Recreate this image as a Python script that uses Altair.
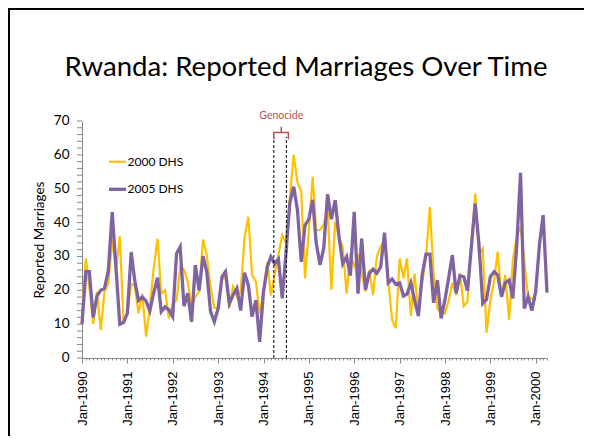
import altair as alt
import pandas as pd

# Monthly reported marriages, Jan 1990 onwards
series_2000_dhs = [
    13, 29.4, 21, 10.1, 19.5, 8.2, 19.6, 22, 35, 26, 36, 10.5,
    13, 21.8, 21.5, 13.2, 19, 6.3, 15, 26.5, 35.2, 19, 20, 11.7,
    16, 17, 26.7, 26.2, 22.5, 15.1, 18.1, 19.5, 35, 30.4, 21, 14.8,
    14.8, 23.6, 23.6, 14.8, 21, 18.1, 19.6, 35.5, 41.7, 24.5, 22.5, 13.2,
    19.6, 28.4, 18.5, 24.5, 30.5, 36.3, 34, 47.5, 60, 52, 49, 23.5,
    37.8, 53.6, 37.8, 37.8, 39.5, 44, 20.2, 40.2, 35.8, 32.8, 19, 30.9,
    27, 29.9, 25, 19.6, 26, 18.6, 29.9, 32.8, 34.8, 23, 11.2, 8.8,
    29.4, 23.5, 29.4, 12.4, 25, 13.2, 22, 29.9, 44.6, 25, 14.6, 13.2,
    13.2, 17.1, 22.2, 18.6, 25, 15.3, 16.6, 33.8, 48.6, 30.4, 32.4, 7.5,
    17.1, 23, 31.4, 18.1, 24.5, 11.2, 28.9, 35.8, 38.7, 28.9, 18.1, 17.6,
    17.1,
]
series_2005_dhs = [
    10, 25.5, 25.5, 12, 18.3, 20, 20.6, 25.8, 43.1, 27, 10, 10.5,
    13.2, 31.3, 23, 17, 18, 16.8, 13.9, 19.2, 23.7, 13.7, 15.1, 14.2,
    12.2, 30.8, 32.8, 15.3, 19.1, 10.7, 27.4, 19.9, 30.1, 25.5, 13.7, 10.7,
    14.6, 24, 25.5, 16.1, 18.6, 20.6, 14, 25.2, 21.5, 12.2, 17.1, 4.8,
    19.6, 26.9, 29.9, 27.9, 29.2, 17.6, 31, 45.8, 50.6, 43.8, 28.4, 39.2,
    41, 46.7, 34, 27.5, 32.5, 48.4, 41, 46.6, 35.8, 27.8, 29.9, 24.3,
    43.2, 19, 35.3, 20.1, 25, 26.2, 25, 26.9, 37, 22.2, 23.3, 21.8,
    22.2, 18.3, 18.9, 22.2, 17.1, 12.4, 24.5, 30.7, 30.7, 16.3, 23, 11.7,
    17.3, 24, 30.4, 19.1, 24.3, 24, 19.9, 32.8, 45.6, 33.8, 16.1, 17.3,
    24, 25.5, 24.5, 18.1, 22.2, 23, 17.6, 32.8, 54.7, 14.6, 18.1, 14,
    19.6, 33.8, 42.2, 19.3,
]
series_names = ["2000 DHS", "2005 DHS"]
series_colors = ["#FFC000", "#8064A2"]
start_month = "1990-01-01"
genocide_lines = ["1994-03-25", "1994-07-04"]
bracket_dates = ["1994-03-25", "1994-03-25", "1994-05-24", "1994-05-24",
                 "1994-05-24", "1994-07-20", "1994-07-20"]
bracket_levels = [64.6, 66.6, 66.6, 68.3, 66.6, 66.6, 64.6]
genocide_label = "Genocide"
title_text = "Rwanda: Reported Marriages Over Time"
y_title = "Reported Marriages"
y_major_ticks = [0, 10, 20, 30, 40, 50, 60, 70]
y_all_ticks = list(range(0, 71, 2))

df2000 = pd.DataFrame({
    "date": pd.date_range(start_month, periods=len(series_2000_dhs), freq="MS"),
    "value": series_2000_dhs,
})
df2005 = pd.DataFrame({
    "date": pd.date_range(start_month, periods=len(series_2005_dhs), freq="MS"),
    "value": series_2005_dhs,
})
df_gen = pd.DataFrame({"date": pd.to_datetime(genocide_lines)})
df_bracket = pd.DataFrame({
    "date": pd.to_datetime(bracket_dates),
    "value": bracket_levels,
    "order": list(range(len(bracket_levels))),
})
df_gen_label = pd.DataFrame({"date": pd.to_datetime(["1994-05-24"]), "value": [70.5]})
df_yticks = pd.DataFrame({"value": y_all_ticks})
df_ylabels = pd.DataFrame({"value": y_major_ticks, "label": [str(v) for v in y_major_ticks]})

W, H = 465, 237
PAD = {"left": 74, "top": 113, "right": 37, "bottom": 78}
AXIS_GRAY = "#868686"
FONT = "Lato"

x_scale = alt.Scale(domain=[alt.DateTime(year=1990, month=1, date=1),
                            alt.DateTime(year=2000, month=4, date=1)])
y_scale = alt.Scale(domain=[0, 70], nice=False, zero=True)

x_axis = alt.Axis(
    tickCount=alt.TimeIntervalStep(interval="month", step=1),
    labelExpr="month(datum.value) == 0 ? timeFormat(datum.value, '%b-%Y') : ''",
    labelAngle=270, labelAlign="right", labelBaseline="middle",
    labelPadding=8, labelOverlap=False, labelFlush=False,
    labelFont="Liberation Sans", labelFontSize=13, labelColor="#000",
    tickSize={"condition": {"test": "month(datum.value) == 0", "value": 5}, "value": 2},
    tickColor=AXIS_GRAY, domainColor=AXIS_GRAY, grid=False, title=None,
)
y_axis = alt.Axis(
    values=y_major_ticks, labels=False, ticks=False,
    domainColor=AXIS_GRAY, grid=False,
    title=y_title, titleFont=FONT, titleFontSize=13.5, titleFontWeight="normal",
    titleColor="#000", titleX=-43, titleY=118.5, titleAngle=270,
    titleAlign="center", titleBaseline="middle",
)

line2000 = alt.Chart(df2000).mark_line(color=series_colors[0], strokeWidth=2.2).encode(
    x=alt.X("date:T", scale=x_scale, axis=x_axis),
    y=alt.Y("value:Q", scale=y_scale, axis=y_axis),
)
line2005 = alt.Chart(df2005).mark_line(color=series_colors[1], strokeWidth=3.3).encode(
    x=alt.X("date:T"), y=alt.Y("value:Q"),
)
y_ticks = alt.Chart(df_yticks).mark_rule(color=AXIS_GRAY, strokeWidth=1).encode(
    x=alt.value(-5), x2=alt.value(0), y=alt.Y("value:Q"),
)
y_labels = alt.Chart(df_ylabels).mark_text(
    font=FONT, fontSize=13.5, color="#000", align="right", baseline="middle"
).encode(x=alt.value(-12.5), y=alt.Y("value:Q"), text="label:N")
gen_rules = alt.Chart(df_gen).mark_rule(color="#000", strokeWidth=1, strokeDash=[3, 2]).encode(
    x=alt.X("date:T"), y=alt.datum(0), y2=alt.datum(65.3),
)
bracket = alt.Chart(df_bracket).mark_line(color="#C0504D", strokeWidth=1.5).encode(
    x=alt.X("date:T"), y=alt.Y("value:Q"), order="order:Q",
)
gen_text = alt.Chart(df_gen_label).mark_text(
    text=genocide_label, color="#C0504D", font=FONT, fontSize=10.5, baseline="alphabetic"
).encode(x=alt.X("date:T"), y=alt.Y("value:Q"))

one = alt.Data(values=[{}])
title = alt.Chart(one).mark_text(
    text=title_text, font=FONT, fontSize=27.6, color="#000", baseline="alphabetic", align="center"
).encode(x=alt.value(224), y=alt.value(-45))

leg_rule0 = alt.Chart(one).mark_rule(color=series_colors[0], strokeWidth=2.2).encode(
    x=alt.value(27), x2=alt.value(44), y=alt.value(40.7))
leg_text0 = alt.Chart(one).mark_text(
    text=series_names[0], font=FONT, fontSize=12, color="#000", align="left", baseline="middle"
).encode(x=alt.value(45.5), y=alt.value(40.7))
leg_rule1 = alt.Chart(one).mark_rule(color=series_colors[1], strokeWidth=3.3).encode(
    x=alt.value(27), x2=alt.value(44), y=alt.value(68.3))
leg_text1 = alt.Chart(one).mark_text(
    text=series_names[1], font=FONT, fontSize=12, color="#000", align="left", baseline="middle"
).encode(x=alt.value(45.5), y=alt.value(68.3))

frame_top = alt.Chart(one).mark_rule(color="#000", strokeWidth=2).encode(
    x=alt.value(-74), x2=alt.value(W + PAD["right"]), y=alt.value(-112))
frame_left = alt.Chart(one).mark_rule(color="#000", strokeWidth=2).encode(
    x=alt.value(-73), y=alt.value(-113), y2=alt.value(H + PAD["bottom"]))

chart = alt.layer(
    line2000, line2005, y_ticks, y_labels, gen_rules, bracket, gen_text, title,
    leg_rule0, leg_text0, leg_rule1, leg_text1, frame_top, frame_left,
).properties(
    width=W, height=H, padding=PAD, autosize=alt.AutoSizeParams(type="none"),
).configure_view(stroke=None)

chart.save("out.html", embed_options={"renderer": "svg", "actions": False})
